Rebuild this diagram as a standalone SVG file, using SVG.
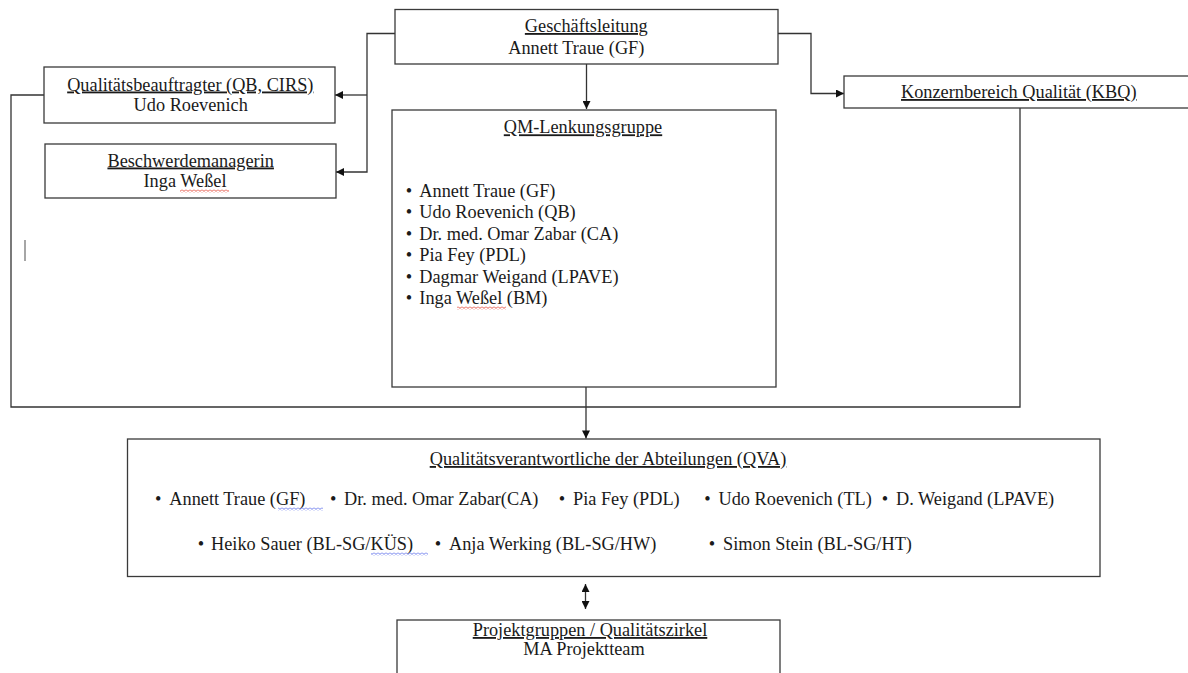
<svg xmlns="http://www.w3.org/2000/svg" width="1188" height="673" viewBox="0 0 1188 673">
<style>
  .box { fill: #ffffff; stroke: #3a3a3a; stroke-width: 1.3; }
  .con { fill: none; stroke: #333333; stroke-width: 1.3; }
  text { font-family: "Liberation Serif", "Times New Roman", serif; font-size: 18.3px; fill: #1a1a1a; }
  .t { text-decoration: underline; }
  .mid { text-anchor: middle; }
</style>
<defs>
  <marker id="ah" viewBox="0 0 10 10" refX="10" refY="5" markerWidth="9" markerHeight="8" markerUnits="userSpaceOnUse" orient="auto-start-reverse">
    <path d="M0,0 L10,5 L0,10 z" fill="#111111"/>
  </marker>
  <pattern id="wavyR" x="0" y="0" width="4" height="3" patternUnits="userSpaceOnUse">
    <path d="M0,2.4 L2,0.6 L4,2.4" fill="none" stroke="#e0301e" stroke-width="0.8"/>
  </pattern>
  <pattern id="wavyB" x="0" y="0" width="4" height="3" patternUnits="userSpaceOnUse">
    <path d="M0,2.4 L2,0.6 L4,2.4" fill="none" stroke="#4a5ee8" stroke-width="0.8"/>
  </pattern>
</defs>
<rect width="1188" height="673" fill="#ffffff"/>

<g id="connectors">
  <path class="con" d="M395,33.5 H367 V172 H336" marker-end="url(#ah)"/>
  <path class="con" d="M367,95 H335" marker-end="url(#ah)"/>
  <path class="con" d="M778,33.5 H811 V93.5 H844" marker-end="url(#ah)"/>
  <path class="con" d="M586.5,64 V109" marker-end="url(#ah)"/>
  <path class="con" d="M44,95 H11 V407 H1020 V108"/>
  <path class="con" d="M586,387 V438.5" marker-end="url(#ah)"/>
  <path class="con" d="M585.5,584 V609" marker-start="url(#ah)" marker-end="url(#ah)"/>
</g>

<g id="geschaeftsleitung">
  <rect class="box" x="395" y="9.5" width="383" height="54.5"/>
  <text class="t mid" x="586.3" y="32">Geschäftsleitung</text>
  <text class="mid" x="576.3" y="53.5">Annett Traue (GF)</text>
</g>

<g id="qb">
  <rect class="box" x="44" y="67" width="291" height="56"/>
  <text class="t mid" x="190.3" y="90.5">Qualitätsbeauftragter (QB, CIRS)</text>
  <text class="mid" x="190.7" y="111">Udo Roevenich</text>
</g>

<g id="beschwerde">
  <rect class="box" x="45" y="144" width="291" height="54"/>
  <text class="t mid" x="190.7" y="166.5">Beschwerdemanagerin</text>
  <text class="mid" x="185" y="187">Inga Weßel</text>
  <rect x="180" y="189.5" width="49" height="3" fill="url(#wavyR)"/>
</g>

<g id="kbq">
  <rect class="box" x="844" y="76" width="360" height="32"/>
  <text class="t mid" x="1018.8" y="98">Konzernbereich Qualität (KBQ)</text>
</g>

<g id="qm-lenkungsgruppe">
  <rect class="box" x="392" y="110" width="384" height="277"/>
  <text class="t mid" x="583" y="133.3">QM-Lenkungsgruppe</text>
  <text><tspan x="405.8" y="196.7">•</tspan><tspan x="419.3" y="196.7">Annett Traue (GF)</tspan></text>
  <text><tspan x="405.8" y="218.2">•</tspan><tspan x="419.3" y="218.2">Udo Roevenich (QB)</tspan></text>
  <text><tspan x="405.8" y="239.7">•</tspan><tspan x="419.3" y="239.7">Dr. med. Omar Zabar (CA)</tspan></text>
  <text><tspan x="405.8" y="261.2">•</tspan><tspan x="419.3" y="261.2">Pia Fey (PDL)</tspan></text>
  <text><tspan x="405.8" y="282.7">•</tspan><tspan x="419.3" y="282.7">Dagmar Weigand (LPAVE)</tspan></text>
  <text><tspan x="405.8" y="304.2">•</tspan><tspan x="419.3" y="304.2">Inga Weßel (BM)</tspan></text>
  <rect x="457" y="306.5" width="49" height="3" fill="url(#wavyR)"/>
</g>

<line x1="25" y1="240" x2="25" y2="261" stroke="#888888" stroke-width="1.5"/>

<g id="qva">
  <rect class="box" x="127.5" y="439" width="972.5" height="137.5"/>
  <text class="t mid" x="608" y="465">Qualitätsverantwortliche der Abteilungen (QVA)</text>
  <text y="505"><tspan x="155.1">•</tspan><tspan x="169.3">Annett Traue (GF)</tspan><tspan x="330.1">•</tspan><tspan x="344">Dr. med. Omar Zabar(CA)</tspan><tspan x="558.8">•</tspan><tspan x="573">Pia Fey (PDL)</tspan><tspan x="704.3">•</tspan><tspan x="718.5">Udo Roevenich (TL)</tspan><tspan x="881.8">•</tspan><tspan x="896">D. Weigand (LPAVE)</tspan></text>
  <rect x="278" y="507.5" width="45" height="3" fill="url(#wavyB)"/>
  <text y="550"><tspan x="197.8">•</tspan><tspan x="211">Heiko Sauer (BL-SG/KÜS)</tspan><tspan x="434.8">•</tspan><tspan x="449">Anja Werking (BL-SG/HW)</tspan><tspan x="708.8">•</tspan><tspan x="723">Simon Stein (BL-SG/HT)</tspan></text>
  <rect x="371" y="552.5" width="57" height="3" fill="url(#wavyB)"/>
</g>

<g id="projektgruppen">
  <rect class="box" x="397" y="620" width="383" height="80"/>
  <text class="t mid" x="590" y="636">Projektgruppen / Qualitätszirkel</text>
  <text class="mid" x="584" y="655">MA Projektteam</text>
</g>
</svg>
